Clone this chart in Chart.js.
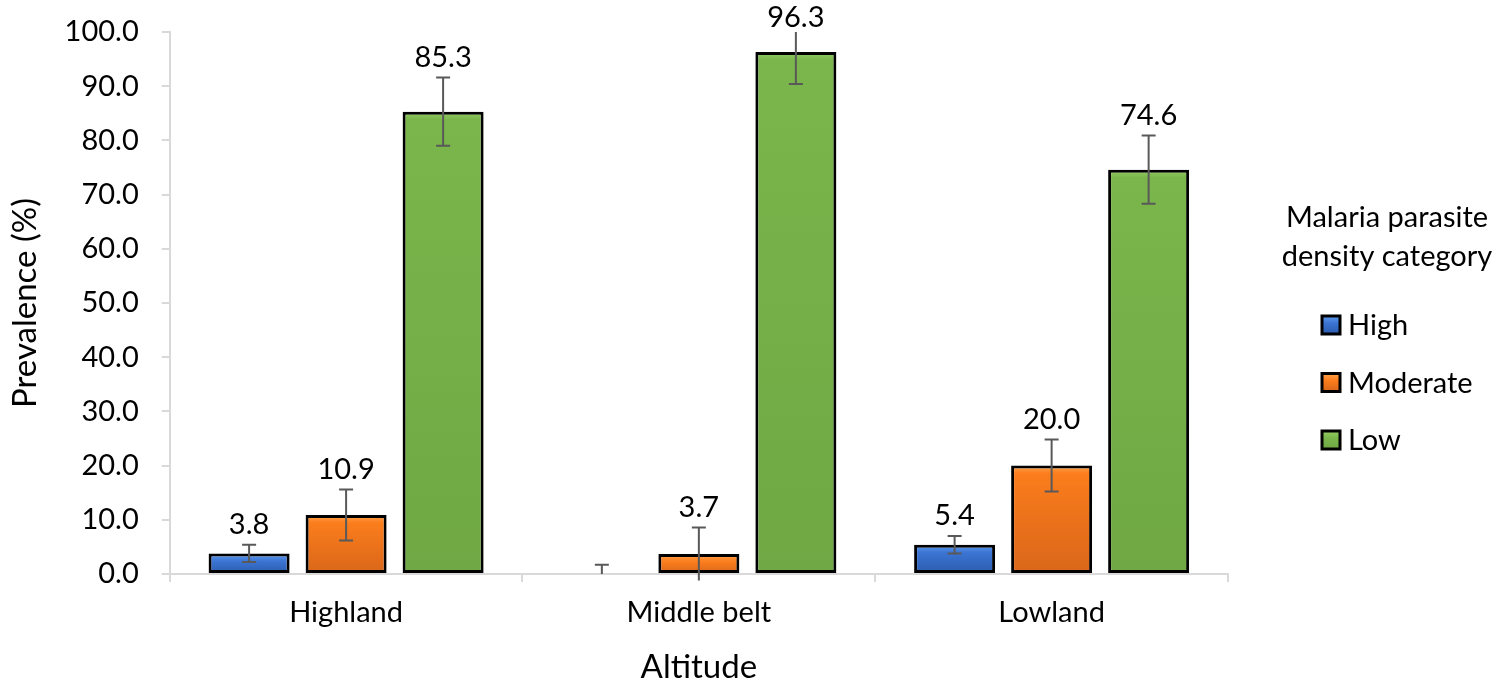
<!DOCTYPE html>
<html lang="en">
<head>
<meta charset="UTF-8" />
<title>Malaria parasite density by altitude</title>
<script src="https://cdn.jsdelivr.net/npm/chart.js"></script>
<style>
  html, body { margin: 0; padding: 0; background: #fff; }
  canvas { display: block; }
</style>
</head>
<body>
<canvas id="grafica" width="1498" height="691"></canvas>
<script>
  // data
  const altitudes = ['Highland', 'Middle belt', 'Lowland'];
  const densityCategories = ['High', 'Moderate', 'Low'];
  const highValues = [3.8, 0, 5.4];
  const moderateValues = [10.9, 3.7, 20.0];
  const lowValues = [85.3, 96.3, 74.6];
  const highErrors = [1.6, 1.7, 1.6];
  const moderateErrors = [4.7, 4.9, 4.8];
  const lowErrors = [6.3, 5.9, 6.3];

  const FONT = 'Lato, "Open Sans", sans-serif';
  const TXT = 29;
  Chart.defaults.font.family = FONT;
  Chart.defaults.color = '#000';

  // top -> bottom shading, a rough stand-in for the Excel bevel
  const shades = {
    High: ['#5f9cee', '#3b74d3', '#2b5bad'],
    Moderate: ['#ffa24a', '#fb7d1c', '#d9661a'],
    Low: ['#93cc63', '#7ab64b', '#6fa844']
  };

  function barFill(name) {
    return function (ctx) {
      const chart = ctx.chart;
      const s = shades[name];
      if (!chart.chartArea || ctx.raw == null) return s[1];
      const y = chart.scales.y;
      const top = y.getPixelForValue(ctx.raw);
      const bottom = y.getPixelForValue(0);
      if (bottom - top < 1) return s[1];
      const g = chart.ctx.createLinearGradient(0, top, 0, bottom);
      g.addColorStop(0, s[0]);
      g.addColorStop(Math.min(0.5, 8 / (bottom - top)), s[1]);
      g.addColorStop(1, s[2]);
      return g;
    };
  }

  const errorSets = [highErrors, moderateErrors, lowErrors];

  const errorBars = {
    id: 'errorBars',
    afterDatasetsDraw(chart) {
      const ctx = chart.ctx;
      const y = chart.scales.y;
      ctx.save();
      chart.data.datasets.forEach((ds, i) => {
        const meta = chart.getDatasetMeta(i);
        meta.data.forEach((bar, j) => {
          const v = ds.data[j];
          const e = errorSets[i][j];
          const clipped = v + e > y.max;
          const yTop = y.getPixelForValue(Math.min(y.max, v + e));
          const low = v > 0 ? v - e : Math.max(y.min, v - e);
          const yBot = y.getPixelForValue(low);
          ctx.strokeStyle = '#595959';
          ctx.lineWidth = 2;
          ctx.beginPath();
          ctx.moveTo(bar.x, yTop);
          ctx.lineTo(bar.x, yBot);
          if (!clipped) {
            ctx.moveTo(bar.x - 7, yTop);
            ctx.lineTo(bar.x + 7, yTop);
          }
          if (low > y.min) {
            ctx.moveTo(bar.x - 7, yBot);
            ctx.lineTo(bar.x + 7, yBot);
          }
          ctx.stroke();
          if (v > 0) {
            ctx.fillStyle = '#000';
            ctx.font = TXT + 'px ' + FONT;
            ctx.textAlign = 'center';
            ctx.textBaseline = 'middle';
            const ly = clipped ? yTop - 14 : yTop - 20;
            ctx.fillText(v.toFixed(1), bar.x, ly);
          }
        });
      });
      ctx.restore();
    }
  };

  const sideLegend = {
    id: 'sideLegend',
    afterDraw(chart) {
      const ctx = chart.ctx;
      ctx.save();
      ctx.fillStyle = '#000';
      ctx.font = TXT + 'px ' + FONT;
      ctx.textAlign = 'center';
      ctx.textBaseline = 'middle';
      ctx.fillText('Malaria parasite', 1387, 218);
      ctx.fillText('density category', 1387, 257);
      ctx.textAlign = 'left';
      chart.data.datasets.forEach((ds, i) => {
        const cy = 325 + i * 57.5;
        const s = shades[ds.label];
        const g = ctx.createLinearGradient(0, cy - 9, 0, cy + 9);
        g.addColorStop(0, s[0]);
        g.addColorStop(0.4, s[1]);
        g.addColorStop(1, s[2]);
        ctx.fillStyle = g;
        ctx.fillRect(1322, cy - 9, 18, 18);
        ctx.strokeStyle = '#000';
        ctx.lineWidth = 3;
        ctx.strokeRect(1322, cy - 9, 18, 18);
        ctx.fillStyle = '#000';
        ctx.fillText(ds.label, 1348, cy + 1);
      });
      ctx.restore();
    }
  };

  const seriesValues = [highValues, moderateValues, lowValues];

  new Chart(document.getElementById('grafica'), {
    type: 'bar',
    data: {
      labels: altitudes,
      datasets: densityCategories.map((name, i) => ({
        label: name,
        data: seriesValues[i],
        backgroundColor: barFill(name),
        borderColor: '#000',
        borderWidth: ctx => (ctx.raw > 0 ? 3 : 0),
        borderSkipped: false,
        categoryPercentage: 0.825,
        barPercentage: 0.835
      }))
    },
    options: {
      responsive: false,
      animation: false,
      layout: { padding: { left: 6, right: 270, top: 32, bottom: 0 } },
      plugins: {
        legend: { display: false },
        tooltip: { enabled: false }
      },
      scales: {
        x: {
          grid: { offset: true, drawOnChartArea: false, tickLength: 8, color: '#d9d9d9', lineWidth: 2 },
          border: { color: '#d9d9d9', width: 2 },
          ticks: { font: { size: TXT }, padding: 13.5 },
          title: { display: true, text: 'Altitude', font: { size: 33 }, padding: { top: 3.6, bottom: 4 } }
        },
        y: {
          min: 0,
          max: 100,
          afterFit(scale) {
            // let the plot start at the top padding, like the original
            scale.paddingTop = 0;
          },
          grid: { drawOnChartArea: false, tickLength: 8, color: '#d9d9d9', lineWidth: 2 },
          border: { color: '#d9d9d9', width: 2 },
          ticks: { stepSize: 10, font: { size: TXT }, padding: 23, callback: v => v.toFixed(1) },
          title: { display: true, text: 'Prevalence (%)', font: { size: 33 }, padding: { top: 0, bottom: -4 } }
        }
      }
    },
    plugins: [errorBars, sideLegend]
  });
</script>
</body>
</html>
